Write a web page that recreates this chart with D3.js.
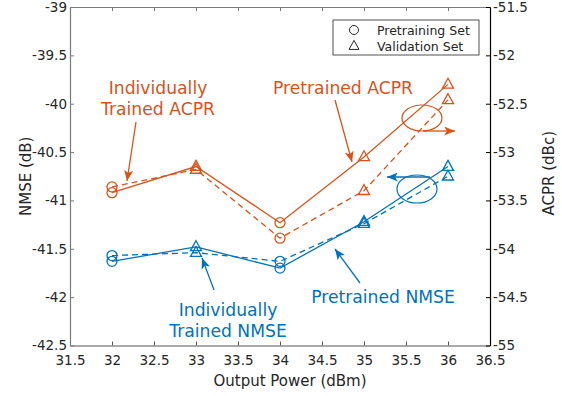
<!DOCTYPE html>
<html>
<head>
<meta charset="utf-8">
<script src="https://cdn.jsdelivr.net/npm/d3@7"></script>
<style>
  html, body { margin: 0; padding: 0; background: #fff; }
  svg { display: block; font-family: "DejaVu Sans", Verdana, sans-serif; }
</style>
</head>
<body>
<svg id="chart" width="562" height="396"></svg>
<script>
// Output power sweep (dBm) and which data set each point belongs to
const power = [32, 33, 34, 35, 36];
const dataSet = ["pre", "val", "pre", "val", "val"];

// NMSE (dB), left axis
const nmsePretrained = [-41.63, -41.48, -41.70, -41.22, -40.65];
const nmseIndividual = [-41.57, -41.54, -41.63, -41.24, -40.75];

// ACPR (dBc), right axis
const acprPretrained = [-53.42, -53.15, -53.73, -53.05, -52.30];
const acprIndividual = [-53.36, -53.18, -53.89, -53.40, -52.46];

const xTicks = [31.5, 32, 32.5, 33, 33.5, 34, 34.5, 35, 35.5, 36, 36.5];
const yLeftTicks = [-42.5, -42, -41.5, -41, -40.5, -40, -39.5, -39];
const yRightTicks = [-55, -54.5, -54, -53.5, -53, -52.5, -52, -51.5];

const BLUE = "#0072BD";
const ORANGE = "#D95319";

const svg = d3.select("#chart");
const m = { left: 70, right: 490, top: 7, bottom: 345.5 };

const x = d3.scaleLinear().domain([31.5, 36.5]).range([m.left, m.right]);
const yL = d3.scaleLinear().domain([-42.5, -39]).range([m.bottom, m.top]);
const yR = d3.scaleLinear().domain([-55, -51.5]).range([m.bottom, m.top]);

const fmt = d => String(d);
const tickLen = 4;

// Axes: ticks pointing into the plot box
const axisColor = "#7a7a7a";
function styleAxis(g, color, fontSize) {
  g.select(".domain").attr("stroke", color).attr("stroke-width", 1.2);
  g.selectAll(".tick line").attr("stroke", color).attr("stroke-width", 1);
  g.selectAll(".tick text").attr("fill", "#262626").style("font-size", fontSize + "px")
    .style("font-family", "'DejaVu Sans', Verdana, sans-serif");
}

const gx = svg.append("g").attr("transform", `translate(0,${m.bottom})`)
  .call(d3.axisBottom(x).tickValues(xTicks).tickFormat(fmt).tickSizeInner(-tickLen).tickSizeOuter(0).tickPadding(10));
styleAxis(gx, "#555", 13.5);

const gxTop = svg.append("g").attr("transform", `translate(0,${m.top})`)
  .call(d3.axisTop(x).tickValues(xTicks).tickFormat("").tickSizeInner(-tickLen).tickSizeOuter(0));
styleAxis(gxTop, axisColor, 13);

const gyL = svg.append("g").attr("transform", `translate(${m.left},0)`)
  .call(d3.axisLeft(yL).tickValues(yLeftTicks).tickFormat(fmt).tickSizeInner(-tickLen).tickSizeOuter(0).tickPadding(3));
styleAxis(gyL, axisColor, 13.5);
gyL.selectAll(".tick text").attr("x", -3);

const gyR = svg.append("g").attr("transform", `translate(${m.right},0)`)
  .call(d3.axisRight(yR).tickValues(yRightTicks).tickFormat(fmt).tickSizeInner(-tickLen).tickSizeOuter(0).tickPadding(3));
styleAxis(gyR, "#000", 13.5);
gyR.selectAll(".tick text").attr("x", 3);

// Axis titles
svg.append("text").attr("x", 290).attr("y", 386)
  .attr("text-anchor", "middle").attr("fill", "#262626").style("font-size", "15px")
  .text("Output Power (dBm)");
svg.append("text").attr("transform", `translate(31,${(m.top + m.bottom) / 2}) rotate(-90)`)
  .attr("text-anchor", "middle").attr("fill", "#262626").style("font-size", "15px")
  .text("NMSE (dB)");
svg.append("text").attr("transform", `translate(554,${(m.top + m.bottom) / 2 - 3}) rotate(-90)`)
  .attr("text-anchor", "middle").attr("fill", "#262626").style("font-size", "15px")
  .text("ACPR (dBc)");

// Series
const series = [
  { vals: nmsePretrained, y: yL, color: BLUE, dash: null },
  { vals: nmseIndividual, y: yL, color: BLUE, dash: "6,4" },
  { vals: acprPretrained, y: yR, color: ORANGE, dash: null },
  { vals: acprIndividual, y: yR, color: ORANGE, dash: "6,4" }
];

const triPath = (cx, cy, s) => {
  const h = s * 0.9;
  return `M${cx},${cy - h * 0.62}L${cx + s / 2},${cy + h * 0.38}L${cx - s / 2},${cy + h * 0.38}Z`;
};

series.forEach(s => {
  const line = d3.line().x((d, i) => x(power[i])).y(d => s.y(d));
  svg.append("path").datum(s.vals).attr("d", line)
    .attr("fill", "none").attr("stroke", s.color).attr("stroke-width", 1.3)
    .attr("stroke-dasharray", s.dash);
  s.vals.forEach((v, i) => {
    const cx = x(power[i]), cy = s.y(v);
    if (dataSet[i] === "pre") {
      svg.append("circle").attr("cx", cx).attr("cy", cy).attr("r", 5)
        .attr("fill", "none").attr("stroke", s.color).attr("stroke-width", 1.3);
    } else {
      svg.append("path").attr("d", triPath(cx, cy, 11))
        .attr("fill", "none").attr("stroke", s.color).attr("stroke-width", 1.3);
    }
  });
});

// Legend
const lg = svg.append("g");
lg.append("rect").attr("x", 333).attr("y", 20).attr("width", 146).attr("height", 35)
  .attr("fill", "#fff").attr("stroke", "#262626").attr("stroke-width", 0.8);
lg.append("circle").attr("cx", 354).attr("cy", 30).attr("r", 4.5)
  .attr("fill", "none").attr("stroke", "#262626").attr("stroke-width", 1);
lg.append("path").attr("d", triPath(354, 46, 10))
  .attr("fill", "none").attr("stroke", "#262626").attr("stroke-width", 1);
lg.append("text").attr("x", 377).attr("y", 34.5).attr("fill", "#262626").style("font-size", "12.5px").text("Pretraining Set");
lg.append("text").attr("x", 377).attr("y", 50.5).attr("fill", "#262626").style("font-size", "12.5px").text("Validation Set");

// Annotations
const defs = svg.append("defs");
[["headO", ORANGE], ["headB", BLUE]].forEach(([id, c]) => {
  defs.append("marker").attr("id", id).attr("viewBox", "0 0 12 10")
    .attr("refX", 12).attr("refY", 5).attr("markerWidth", 12).attr("markerHeight", 9)
    .attr("markerUnits", "userSpaceOnUse").attr("orient", "auto")
    .append("path").attr("d", "M0,0L12,5L0,10L3,5Z").attr("fill", c);
});

function arrow(x1, y1, x2, y2, color, head) {
  svg.append("line").attr("x1", x1).attr("y1", y1).attr("x2", x2).attr("y2", y2)
    .attr("stroke", color).attr("stroke-width", 1.3).attr("marker-end", `url(#${head})`);
}
function label(lines, cx, y0, color) {
  lines.forEach((t, i) => {
    svg.append("text").attr("x", cx).attr("y", y0 + i * 21).attr("text-anchor", "middle")
      .attr("fill", color).style("font-size", "17.2px").text(t);
  });
}

label(["Individually", "Trained ACPR"], 158, 94, ORANGE);
arrow(136, 122, 127, 181, ORANGE, "headO");
label(["Pretrained ACPR"], 343, 94, ORANGE);
arrow(335, 100, 352, 162, ORANGE, "headO");

svg.append("ellipse").attr("cx", 422).attr("cy", 118).attr("rx", 20).attr("ry", 13)
  .attr("fill", "none").attr("stroke", ORANGE).attr("stroke-width", 1.2);
arrow(423, 131, 455, 131, ORANGE, "headO");

svg.append("ellipse").attr("cx", 417).attr("cy", 189).attr("rx", 20).attr("ry", 14)
  .attr("fill", "none").attr("stroke", BLUE).attr("stroke-width", 1.2);
arrow(430, 177, 387, 177, BLUE, "headB");

label(["Pretrained NMSE"], 383, 303, BLUE);
arrow(360, 283, 335, 249, BLUE, "headB");
label(["Individually", "Trained NMSE"], 228, 316, BLUE);
arrow(214, 290, 202, 258, BLUE, "headB");
</script>
</body>
</html>
